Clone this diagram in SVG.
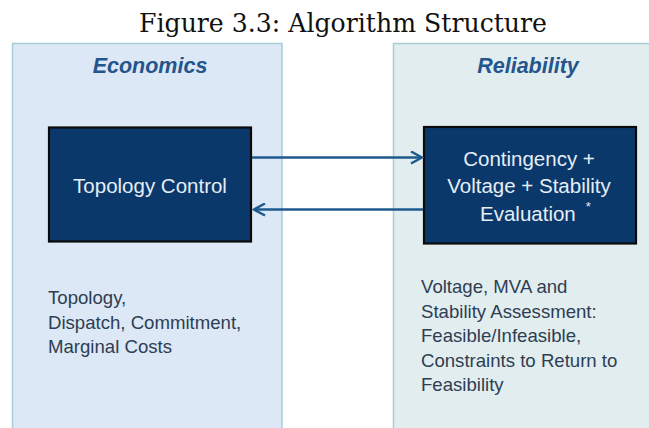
<svg xmlns="http://www.w3.org/2000/svg" width="649" height="428" viewBox="0 0 649 428">
  <defs>
    <style>
      .title { font-family: "DejaVu Serif", "Liberation Serif", serif; font-size: 26px; fill: #111; }
      .panel-l { fill: #dce8f5; stroke: #a8cdd6; stroke-width: 1.5; }
      .panel-r { fill: #e2edf0; stroke: #a8cdd6; stroke-width: 1.5; }
      .head { font-family: "Liberation Sans", Arial, sans-serif; font-size: 21.5px; font-weight: bold; font-style: italic; fill: #24558c; text-anchor: middle; }
      .box { fill: #0b386b; stroke: #0a0a0a; stroke-width: 2.2; }
      .boxtxt { font-family: "Liberation Sans", Arial, sans-serif; font-size: 20.5px; fill: #e6edf5; text-anchor: middle; }
      .note { font-family: "Liberation Sans", Arial, sans-serif; font-size: 18.6px; fill: #2e3e52; }
      .conn { stroke: #1f5a8e; stroke-width: 2.5; fill: none; }
    </style>
    <marker id="arrow" viewBox="0 0 14 14" refX="12" refY="7" markerWidth="14" markerHeight="14" markerUnits="userSpaceOnUse" orient="auto">
      <path d="M1,1 L12,7 L1,13" fill="none" stroke="#1f5a8e" stroke-width="2.5"/>
    </marker>
  </defs>
  <rect width="649" height="428" fill="#ffffff"/>
  <text class="title" x="343" y="32" text-anchor="middle" textLength="408" lengthAdjust="spacingAndGlyphs">Figure 3.3: Algorithm Structure</text>

  <g id="economics-panel">
    <rect class="panel-l" x="12.5" y="43.5" width="269.5" height="390"/>
    <text class="head" x="150" y="73">Economics</text>
    <text class="note" x="48">
      <tspan x="48" y="304">Topology,</tspan>
      <tspan x="48" y="329">Dispatch, Commitment,</tspan>
      <tspan x="48" y="353">Marginal Costs</tspan>
    </text>
  </g>

  <g id="reliability-panel">
    <rect class="panel-r" x="393.5" y="43.5" width="262" height="390"/>
    <text class="head" x="528" y="73">Reliability</text>
    <text class="note" x="421">
      <tspan x="421" y="293">Voltage, MVA and</tspan>
      <tspan x="421" y="317.5">Stability Assessment:</tspan>
      <tspan x="421" y="342">Feasible/Infeasible,</tspan>
      <tspan x="421" y="366.5">Constraints to Return to</tspan>
      <tspan x="421" y="391">Feasibility</tspan>
    </text>
  </g>

  <g id="topology-control">
    <rect class="box" x="49" y="127.5" width="202" height="114"/>
    <text class="boxtxt" x="150" y="193">Topology Control</text>
  </g>

  <g id="evaluation">
    <rect class="box" x="424" y="127" width="212" height="116.5"/>
    <text class="boxtxt" x="529" y="166">Contingency +</text>
    <text class="boxtxt" x="529" y="193">Voltage + Stability</text>
    <text class="boxtxt" x="480" y="221" style="text-anchor:start">Evaluation<tspan font-size="13" dx="10" dy="-10">*</tspan></text>
  </g>

  <g id="connectors">
    <line class="conn" x1="252" y1="157.5" x2="422" y2="157.5" marker-end="url(#arrow)"/>
    <line class="conn" x1="423" y1="209.5" x2="254" y2="209.5" marker-end="url(#arrow)"/>
  </g>
</svg>
